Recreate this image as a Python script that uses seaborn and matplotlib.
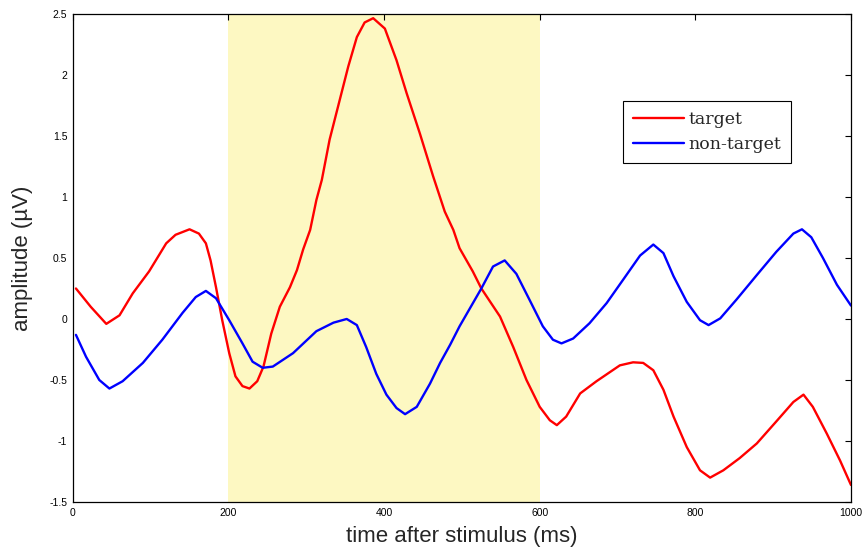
import pandas as pd
import numpy as np
import matplotlib
matplotlib.use('Agg')
import matplotlib.pyplot as plt
import seaborn as sns

# values
target_t = [4, 23, 43, 60, 77, 98, 120, 132, 150, 162, 171, 177, 184, 192, 201, 209, 218, 227,
            237, 245, 255, 266, 279, 288, 296, 305, 313, 320, 330, 343, 354, 365, 375, 386, 401,
            416, 429, 446, 463, 478, 489, 497, 514, 525, 549, 566, 583, 600, 613, 622, 634, 652,
            673, 703, 720, 733, 746, 759, 772, 789, 806, 819, 836, 857, 879, 904, 926, 939, 951,
            969, 986, 1000]
target_amp = [0.25, 0.10, -0.04, 0.03, 0.21, 0.39, 0.62, 0.69, 0.735, 0.70, 0.62, 0.48, 0.26,
              -0.01, -0.28, -0.47, -0.55, -0.57, -0.51, -0.39, -0.12, 0.10, 0.26, 0.40, 0.57,
              0.73, 0.975, 1.14, 1.47, 1.795, 2.07, 2.31, 2.43, 2.465, 2.38, 2.12, 1.85, 1.52,
              1.17, 0.88, 0.73, 0.58, 0.39, 0.25, 0.02, -0.23, -0.50, -0.72, -0.83, -0.87, -0.80,
              -0.61, -0.51, -0.38, -0.355, -0.36, -0.42, -0.58, -0.80, -1.05, -1.24, -1.30, -1.24,
              -1.14, -1.02, -0.84, -0.68, -0.62, -0.72, -0.94, -1.16, -1.36]

nontarget_t = [4, 17, 34, 47, 64, 90, 115, 141, 158, 171, 184, 201, 218, 231, 244, 257, 283, 313,
               335, 352, 365, 377, 390, 403, 416, 427, 442, 459, 472, 485, 497, 525, 540, 555,
               570, 587, 604, 617, 628, 643, 664, 686, 707, 729, 746, 759, 772, 789, 806, 817,
               832, 853, 879, 904, 926, 937, 949, 964, 982, 1000]
nontarget_amp = [-0.13, -0.31, -0.50, -0.57, -0.51, -0.36, -0.17, 0.05, 0.18, 0.23, 0.17, -0.01,
                 -0.20, -0.35, -0.40, -0.39, -0.28, -0.10, -0.03, 0.0, -0.05, -0.23, -0.45, -0.62,
                 -0.73, -0.78, -0.72, -0.53, -0.36, -0.21, -0.06, 0.25, 0.43, 0.48, 0.37, 0.156,
                 -0.06, -0.17, -0.20, -0.16, -0.035, 0.13, 0.32, 0.52, 0.61, 0.54, 0.35, 0.14,
                 -0.01, -0.05, 0.005, 0.16, 0.36, 0.55, 0.70, 0.735, 0.67, 0.50, 0.28, 0.11]

window = (200, 600)
x_ticks = [0, 200, 400, 600, 800, 1000]
y_ticks = [-1.5, -1, -0.5, 0, 0.5, 1, 1.5, 2, 2.5]
y_ticklabels = ['-1.5', '-1', '-0.5', '0', '0.5', '1', '1.5', '2', '2.5']

df = pd.concat([
    pd.DataFrame({'t': target_t, 'amp': target_amp, 'cond': 'target'}),
    pd.DataFrame({'t': nontarget_t, 'amp': nontarget_amp, 'cond': 'non-target'}),
])

sns.set_style('white')
plt.rcParams['font.family'] = ['Liberation Sans', 'DejaVu Sans']

fig = plt.figure(figsize=(8.67, 5.57), dpi=100)
ax = fig.add_axes([0.084, 0.0987, 0.8975, 0.8763])

ax.axvspan(*window, color='#fdf8c2', lw=0, zorder=0)
sns.lineplot(data=df, x='t', y='amp', hue='cond', palette={'target': 'red', 'non-target': 'blue'},
             sort=False, estimator=None, lw=1.7, ax=ax)

ax.set_xlim(0, 1000)
ax.set_ylim(-1.5, 2.5)
ax.set_xticks(x_ticks)
ax.set_xticklabels([str(v) for v in x_ticks])
ax.set_yticks(y_ticks)
ax.set_yticklabels(y_ticklabels)
ax.tick_params(direction='in', top=True, right=True, length=4, width=0.8,
               labelsize=7.5, colors='black', pad=4)
for s in ax.spines.values():
    s.set_visible(True)
    s.set_color('black')
    s.set_linewidth(0.9)

ax.set_xlabel('time after stimulus (ms)', fontsize=16, labelpad=6)
ax.set_ylabel('amplitude (\u00b5V)', fontsize=16, labelpad=12)

leg = ax.legend(loc='upper left', bbox_to_anchor=(0.707, 0.822), frameon=True, fancybox=False,
                edgecolor='black', framealpha=1, handlelength=2.9, handletextpad=0.25,
                borderpad=0.6, labelspacing=0.45, borderaxespad=0,
                prop={'family': 'DejaVu Serif', 'size': 12.5})
leg.get_frame().set_linewidth(0.8)

fig.savefig('out.png', dpi=100)
